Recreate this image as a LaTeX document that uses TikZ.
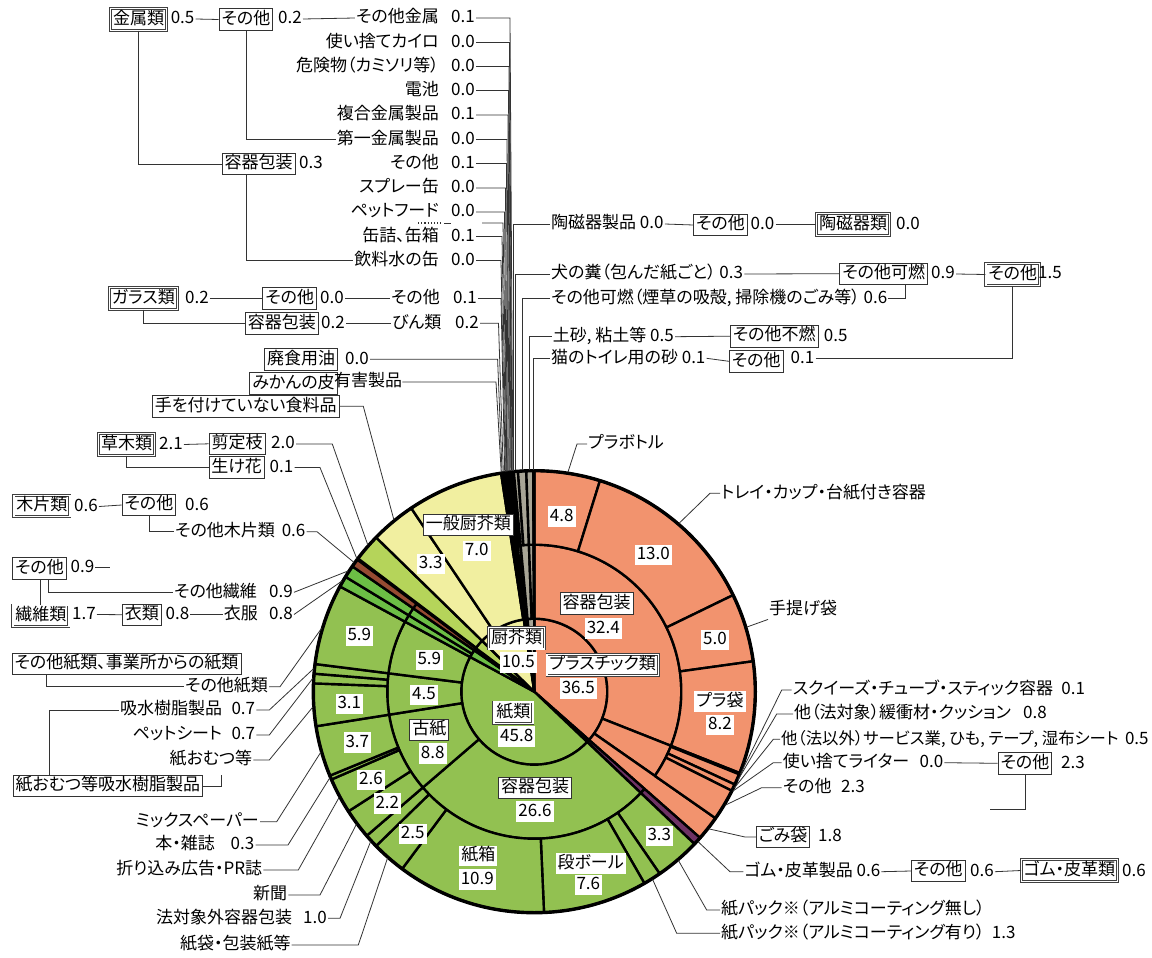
\documentclass[tikz,border=0pt]{standalone}
\usepackage{fontspec}
\setmainfont{Noto Sans CJK JP}[RawFeature=+palt]
\usetikzlibrary{calc}
\definecolor{plaS}{RGB}{242,147,110}
\definecolor{papG}{RGB}{146,193,81}
\definecolor{texG}{RGB}{108,190,69}
\definecolor{wodB}{RGB}{150,75,50}
\definecolor{grsG}{RGB}{181,212,90}
\definecolor{kitY}{RGB}{241,239,160}
\definecolor{rubP}{RGB}{110,50,100}
\definecolor{miscG}{RGB}{168,165,150}
\newcommand\lblfont{\fontsize{17}{19}\selectfont}
% annular sector: inner radius, outer radius, start %, end %, fill colour
\newcommand\wdg[5]{%
  \pgfmathsetmacro\wdgA{3.6*(#3)-90}%
  \pgfmathsetmacro\wdgB{3.6*(#4)-90}%
  \filldraw[wedge, fill=#5] (\wdgA:#1) arc[start angle=\wdgA, end angle=\wdgB, radius=#1]
    -- (\wdgB:#2) arc[start angle=\wdgB, end angle=\wdgA, radius=#2] -- cycle;}
% point on the rim at a given percentage
\newcommand\tgt[2]{\coordinate (#1) at ({3.6*(#2)-90}:222);}
\begin{document}
\begin{tikzpicture}[x=1pt,y=-1pt,
  every node/.style={font=\lblfont, inner sep=1pt, text height=13pt, text depth=3.5pt},
  wedge/.style={draw=black, line width=2.4pt, line join=round},
  lead/.style={draw=black!80, line width=0.8pt},
  tbox/.style={draw=black!80, line width=0.8pt, fill=white, inner sep=2.5pt},
  dbox/.style={draw=black!75, double=white, double distance=1.4pt, line width=0.7pt, fill=white, inner sep=2.5pt},
  num/.style={fill=white, inner sep=2pt},
  after/.style={anchor=west, xshift=#1}]

\fill[white] (0,0) rectangle (1152,958);
\path[use as bounding box] (0,0) rectangle (1152,958);

% ---------------- sunburst ----------------
\begin{scope}[shift={(534.3,691.7)}]
% level 1
\wdg{0.01}{73}{0}{36.5}{plaS}
\wdg{0.01}{73}{36.5}{37.1}{rubP}
\wdg{0.01}{73}{37.1}{82.9}{papG}
\wdg{0.01}{73}{82.9}{84.6}{texG}
\wdg{0.01}{73}{84.6}{85.2}{wodB}
\wdg{0.01}{73}{85.2}{87.3}{grsG}
\wdg{0.01}{73}{87.3}{97.7}{kitY}
\wdg{0.01}{73}{97.7}{97.9}{miscG}
\wdg{0.01}{73}{97.9}{98.5}{miscG}
\wdg{0.01}{73}{98.5}{98.52}{miscG}
\wdg{0.01}{73}{98.52}{100}{miscG}
% level 2
\wdg{73}{147}{0}{31.0}{plaS}
\wdg{73}{147}{31.0}{34.7}{plaS}
\wdg{73}{221}{34.7}{36.5}{plaS}
\wdg{73}{147}{36.5}{37.1}{rubP}
\wdg{73}{147}{37.1}{63.7}{papG}
\wdg{73}{147}{63.7}{72.5}{papG}
\wdg{73}{147}{72.5}{77.0}{papG}
\wdg{73}{147}{77.0}{82.9}{papG}
\wdg{73}{147}{82.9}{83.7}{texG}
\wdg{73}{147}{83.7}{84.6}{texG}
\wdg{73}{147}{84.6}{85.2}{wodB}
\wdg{73}{221}{85.2}{85.3}{grsG}
\wdg{73}{221}{85.3}{87.3}{grsG}
\wdg{73}{221}{87.3}{90.6}{kitY}
\wdg{73}{221}{90.6}{97.6}{kitY}
\wdg{73}{221}{97.6}{97.66}{kitY}
\wdg{73}{221}{97.66}{97.7}{kitY}
\wdg{73}{147}{97.7}{97.84}{miscG}
\wdg{73}{147}{97.84}{97.9}{miscG}
\wdg{73}{147}{97.9}{98.18}{miscG}
\wdg{73}{147}{98.18}{98.5}{miscG}
\wdg{73}{147}{98.5}{98.52}{miscG}
\wdg{73}{147}{98.52}{99.42}{miscG}
\wdg{73}{147}{99.42}{99.92}{miscG}
\wdg{73}{147}{99.92}{100}{miscG}
% level 3
\wdg{147}{221}{0}{4.8}{plaS}
\wdg{147}{221}{4.8}{17.8}{plaS}
\wdg{147}{221}{17.8}{22.8}{plaS}
\wdg{147}{221}{22.8}{31.0}{plaS}
\wdg{147}{221}{31.0}{31.1}{plaS}
\wdg{147}{221}{31.1}{31.9}{plaS}
\wdg{147}{221}{31.9}{32.4}{plaS}
\wdg{147}{221}{32.4}{34.7}{plaS}
\wdg{147}{221}{36.5}{37.1}{rubP}
\wdg{147}{221}{37.1}{40.4}{papG}
\wdg{147}{221}{40.4}{41.7}{papG}
\wdg{147}{221}{41.7}{49.3}{papG}
\wdg{147}{221}{49.3}{60.2}{papG}
\wdg{147}{221}{60.2}{62.7}{papG}
\wdg{147}{221}{62.7}{63.7}{papG}
\wdg{147}{221}{63.7}{65.9}{papG}
\wdg{147}{221}{65.9}{68.5}{papG}
\wdg{147}{221}{68.5}{68.8}{papG}
\wdg{147}{221}{68.8}{72.5}{papG}
\wdg{147}{221}{72.5}{75.6}{papG}
\wdg{147}{221}{75.6}{76.3}{papG}
\wdg{147}{221}{76.3}{77.0}{papG}
\wdg{147}{221}{77.0}{82.9}{papG}
\wdg{147}{221}{82.9}{83.7}{texG}
\wdg{147}{221}{83.7}{84.6}{texG}
\wdg{147}{221}{84.6}{85.2}{wodB}
\wdg{147}{221}{97.7}{97.84}{miscG}
\wdg{147}{221}{97.84}{97.9}{miscG}
\wdg{147}{221}{97.9}{97.94}{miscG}
\wdg{147}{221}{97.94}{98.0}{miscG}
\wdg{147}{221}{98.0}{98.04}{miscG}
\wdg{147}{221}{98.04}{98.08}{miscG}
\wdg{147}{221}{98.08}{98.18}{miscG}
\wdg{147}{221}{98.18}{98.22}{miscG}
\wdg{147}{221}{98.22}{98.3}{miscG}
\wdg{147}{221}{98.3}{98.34}{miscG}
\wdg{147}{221}{98.34}{98.38}{miscG}
\wdg{147}{221}{98.38}{98.42}{miscG}
\wdg{147}{221}{98.42}{98.5}{miscG}
\wdg{147}{221}{98.5}{98.52}{miscG}
\wdg{147}{221}{98.52}{98.82}{miscG}
\wdg{147}{221}{98.82}{99.42}{miscG}
\wdg{147}{221}{99.42}{99.92}{miscG}
\wdg{147}{221}{99.92}{100}{miscG}
\draw[line width=3.4pt] (0,0) circle[radius=221];
% rim points for the leader lines
\tgt{tm1}{98.46}\tgt{tm2}{98.40}\tgt{tm3}{98.36}\tgt{tm4}{98.32}\tgt{tm5}{98.26}
\tgt{tm6}{98.20}\tgt{tm7}{98.13}\tgt{tm8}{98.06}\tgt{tm9}{98.02}\tgt{tm9b}{98.04}
\tgt{tm10}{97.97}\tgt{tm11}{97.92}
\tgt{tg1}{97.87}\tgt{tg2}{97.77}\tgt{th}{97.68}\tgt{ty}{97.62}
\tgt{tc1}{98.51}\tgt{tk1}{98.67}\tgt{tk4}{99.12}\tgt{tf1}{99.67}\tgt{tn1}{99.96}
\tgt{tpb}{2.42}\tgt{ttr}{11.3}\tgt{ttb}{20.3}
\tgt{tq1}{31.05}\tgt{tq2}{31.5}\tgt{tq3}{32.15}\tgt{tq4}{32.4}\tgt{tq5}{33.55}
\tgt{tgb}{35.6}\tgt{tgr}{36.8}\tgt{tkp1}{38.75}\tgt{tkp2}{41.05}
\tgt{tte}{89.1}\tgt{tse}{86.5}\tgt{tik}{85.25}\tgt{tmt}{84.9}
\tgt{tst}{84.15}\tgt{tif}{83.3}
\tgt{tp1}{79.6}\tgt{tp2}{76.65}\tgt{tp3}{75.95}\tgt{tp4}{73.9}\tgt{tp5}{70.6}
\tgt{tp6}{68.65}\tgt{tp7}{67.1}\tgt{tp8}{64.8}\tgt{tp9}{63.2}\tgt{tp10}{61.5}
\end{scope}

% ---------------- labels inside the rings ----------------
\node[num] (i1) at (561.7,516.7) {4.8};
\node[num] (i2) at (653.3,555) {13.0};
\node[num] (i3) at (715,640) {5.0};
\node[num] (i4) at (720,701.7) {プラ袋};
\node[num] (i4v) at (720,725) {8.2};
\node[tbox] (i5) at (596.7,603.3) {容器包装};
\node[num] (i5v) at (603.3,628.3) {32.4};
\node[dbox] (i6) at (602.7,665) {プラスチック類};
\node[num] (i6v) at (578.3,688.3) {36.5};
\node[dbox] (i7) at (516.7,638.3) {厨芥類};
\node[num] (i7v) at (518.3,662.7) {10.5};
\node[tbox] (i8) at (468.3,525) {一般厨芥類};
\node[num] (i8v) at (476.7,551) {7.0};
\node[num] (i9) at (430.7,564) {3.3};
\node[num] (i10) at (359.3,636) {5.9};
\node[num] (i11) at (429.3,660) {5.9};
\node[num] (i12) at (424,695) {4.5};
\node[num] (i13) at (349.3,704) {3.1};
\node[tbox] (i14) at (429.3,730) {古紙};
\node[num] (i14v) at (432.7,753.3) {8.8};
\node[dbox] (i15) at (513.3,712.7) {紙類};
\node[num] (i15v) at (516.7,736.7) {45.8};
\node[num] (i16) at (357.3,742.7) {3.7};
\node[num] (i17) at (371,780) {2.6};
\node[num] (i18) at (387.3,803.3) {2.2};
\node[num] (i19) at (412.7,834) {2.5};
\node[tbox] (i20) at (535,787.7) {容器包装};
\node[num] (i20v) at (535,811.7) {26.6};
\node[num] (i21) at (478.3,856) {紙箱};
\node[num] (i21v) at (477.3,879.3) {10.9};
\node[num] (i22) at (590.7,863.3) {段ボール};
\node[num] (i22v) at (588.3,885) {7.6};
\node[num] (i23) at (659.3,836) {3.3};

% ---------------- metals ----------------
\node[dbox] (kin) at (138.6,19.5) {金属類};
\node (kinv) at (182.6,19) {0.5};
\node[tbox] (mo) at (246,19.5) {その他};
\node (mov) at (290,19) {0.2};
\node[tbox] (mk) at (258.5,164) {容器包装};
\node (mkv) at (311,164) {0.3};
\node[anchor=east] (m1) at (440,18) {その他金属};
\node (m1v) at (463,18) {0.1};
\node[anchor=east] (m2) at (440,42.5) {使い捨てカイロ};
\node (m2v) at (463,42.5) {0.0};
\node[anchor=east] (m3) at (440,66.5) {危険物（カミソリ等）};
\node (m3v) at (463,66.5) {0.0};
\node[anchor=east] (m4) at (440,90.5) {電池};
\node (m4v) at (463,90.5) {0.0};
\node[anchor=east] (m5) at (440,115) {複合金属製品};
\node (m5v) at (463,115) {0.1};
\node[anchor=east] (m6) at (440,139.5) {第一金属製品};
\node (m6v) at (463,139.5) {0.0};
\node[anchor=east] (m7) at (440,163.5) {その他};
\node (m7v) at (463,163.5) {0.1};
\node[anchor=east] (m8) at (440,188) {スプレー缶};
\node (m8v) at (463,188) {0.0};
\node[anchor=east] (m9) at (440,212) {ペットフード};
\node (m9v) at (463,212) {0.0};
\node[anchor=east] (m10) at (440,236.5) {缶詰、缶箱};
\node (m10v) at (463,236.5) {0.1};
\node[anchor=east] (m11) at (440,260.5) {飲料水の缶};
\node (m11v) at (463,260.5) {0.0};
\draw[lead] (kinv.east) -- (mo.west);
\draw[lead] (mov.east) -- (m1.west);
\draw[lead] (kin.south) |- (mk.west);
\draw[lead] (mo.south) |- (m6.west);
\draw[lead] (mo.south |- mk.south) |- (m11.west);
% each leader runs right to its own bend, then down to the rim
\foreach \r/\bx in {1/510,2/509.5,3/509,4/508.5,5/508,6/507,7/506.5,8/505.5,9/504.5,10/502,11/501}
  {\draw[lead] (m\r v.east) -- (\bx,0 |- m\r v.east) -- (tm\r);}
\coordinate (dt1) at (418,223);
\coordinate (dt2) at (441,223);
\coordinate (dt3) at (444,223);
\coordinate (dt4) at (451,223);
\coordinate (dt5) at (482,223);
\draw[black!80, dotted, line width=1.2pt] (dt1) -- (dt2);
\draw[lead] (dt3) -- (dt4);
\draw[lead] (dt5) -- (503,223) -- (tm9b);

% ---------------- glass ----------------
\node[dbox] (gl) at (143.4,298.5) {ガラス類};
\node (glv) at (197,298.5) {0.2};
\node[tbox] (go) at (289.7,298.5) {その他};
\node (gov) at (332,298.5) {0.0};
\node[anchor=east] (g1) at (441,298.5) {その他};
\node (g1v) at (465,298.5) {0.1};
\node[tbox] (gk) at (281.8,323.3) {容器包装};
\node (gkv) at (333,323.3) {0.2};
\node[anchor=east] (g2) at (442.5,323.3) {びん類};
\node (g2v) at (467,323.3) {0.2};
\draw[lead] (glv.east) -- (go.west);
\draw[lead] (gov.east) -- (g1.west);
\draw[lead] (g1v.east) -- (501,298.5) -- (tg1);
\draw[lead] (gl.south) |- (gk.west);
\draw[lead] (gkv.east) -- (g2.west);
\draw[lead] (g2v.east) -- (498.5,323.3) -- (tg2);

% ---------------- kitchen waste and others on the left ----------------
\node[tbox] (hs) at (301,359.3) {廃食用油};
\node (hsv) at (357,359.3) {0.0};
\draw[lead] (hsv.east) -- (497.6,359.3) -- (th);
\node[tbox] (mi) at (293.5,383.3) {みかんの皮};
\node[anchor=west, inner sep=0pt] (yu) at (334,382) {有害製品};
\draw[lead] (yu.east) -- (496,382) -- (ty);
\node[tbox] (te) at (245.7,406.3) {手を付けていない食料品};
\draw[lead] (te.east) -- (363.3,406.3) -- (tte);

\node[dbox] (so) at (126.7,444.5) {草木類};
\node (sov) at (171,444.5) {2.1};
\node[tbox] (se) at (237,443.8) {剪定枝};
\node (sev) at (283,444) {2.0};
\node[tbox] (ik) at (236.7,467.5) {生け花};
\node (ikv) at (281.5,467.5) {0.1};
\draw[lead] (sov.east) -- (se.west);
\draw[lead] (so.south) |- (ik.west);
\draw[lead] (sev.east) -- (332.3,444) -- (tse);
\draw[lead] (ikv.east) -- (320,467.5) -- (tik);

\node[dbox] (mku) at (41.8,506) {木片類};
\node (mkuv) at (86,506.5) {0.6};
\node[tbox] (mko) at (149,505) {その他};
\node (mkov) at (197,506) {0.6};
\node[anchor=west] (mt) at (174,531.7) {その他木片類};
\node (mtv) at (293.6,531.7) {0.6};
\draw[lead] (mkuv.east) -- (mko.west);
\draw[lead] (mko.south) |- (mt.west);
\draw[lead] (mtv.east) -- (317,531.7) -- (tmt);

% ---------------- textiles ----------------
\node[tbox] (so3) at (39.5,568.5) {その他};
\node (so3v) at (82.5,567.5) {0.9};
\coordinate (so3e) at (110,567.5);
\draw[lead] (so3v.east) -- (so3e);
\node[anchor=west] (st) at (173,592.3) {その他繊維};
\node (stv) at (281,592.3) {0.9};
\node[dbox] (sen) at (40.8,615.8) {繊維類};
\node (senv) at (84,614.5) {1.7};
\node[tbox] (ir) at (141.8,614.7) {衣類};
\node (irv) at (177.5,614.5) {0.8};
\node[anchor=west] (ifu) at (222.7,614.5) {衣服};
\node (ifuv) at (281,614.5) {0.8};
\draw[lead] (sen.north) -- (sen.north |- so3.south);
\draw[lead] ([xshift=9pt]so3.south) |- (st.west);
\draw[lead] (stv.east) -- (tst);
\draw[lead] (senv.east) -- (ir.west);
\draw[lead] (irv.east) -- (ifu.west);
\draw[lead] (ifuv.east) -- (tif);

% ---------------- paper ----------------
\node[tbox] (ps) at (126.5,663.8) {その他紙類、事業所からの紙類};
\node[anchor=west] (p1) at (184,686.7) {その他紙類};
\draw[lead] ($(ps.south west)+(34.3,0)$) |- (p1.west);
\draw[lead] (p1.east) -- (280,686.7) -- (tp1);
\node[anchor=east] (p2) at (223.3,710) {吸水樹脂製品};
\node (p2v) at (243.3,710) {0.7};
\draw[lead] (p2v.east) -- (269.3,710) -- (tp2);
\node[anchor=east] (p3) at (223.3,735) {ペットシート};
\node (p3v) at (243.3,735) {0.7};
\draw[lead] (p3v.east) -- (269.3,735) -- (tp3);
\node[anchor=east] (p4) at (253.3,760) {紙おむつ等};
\draw[lead] (p4.east) -- (269.3,760) -- (tp4);
\node[tbox] (po) at (107.8,786) {紙おむつ等吸水樹脂製品};
\draw[lead] ($(po.north west)+(37,0)$) |- (p2.west);
\coordinate (poe) at (221.7,775);
\draw[lead] (po.east) -| (poe);
\node[anchor=east] (p5) at (260,821.7) {ミックスペーパー};
\draw[lead] (p5.east) -- (276.7,821.7) -- (tp5);
\node[anchor=east] (p6) at (216,845) {本・雑誌};
\node (p6v) at (242.5,845) {0.3};
\draw[lead] (p6v.east) -- (288,845) -- (tp6);
\node[anchor=east] (p7) at (263.3,870) {折り込み広告・PR誌};
\draw[lead] (p7.east) -- (298.3,870) -- (tp7);
\node[anchor=east] (p8) at (288.3,895) {新聞};
\draw[lead] (p8.east) -- (320,895) -- (tp8);
\node[anchor=east] (p9) at (293.3,918.3) {法対象外容器包装};
\node (p9v) at (315,918.3) {1.0};
\draw[lead] (p9v.east) -- (340,918.3) -- (tp9);
\node[anchor=east] (p10) at (291.7,945) {紙袋・包装紙等};
\draw[lead] (p10.east) -- (358.3,945) -- (tp10);

% ---------------- right, upper part ----------------
\node[anchor=west] (c1) at (550,224) {陶磁器製品 0.0};
\node[tbox] (c2) at (720.4,225) {その他};
\node (c2v) at (762.5,224.5) {0.0};
\node[dbox] (c3) at (853,224.5) {陶磁器類};
\node (c3v) at (908,224.5) {0.0};
\draw[lead] (c1.west) -| (tc1);
\draw[lead] (c1.east) -- (c2.west);
\draw[lead] (c2v.east) -- (c3.west);

\node[anchor=west] (k1) at (550,274) {犬の糞（包んだ紙ごと） 0.3};
\node[tbox] (k2) at (883.7,273.7) {その他可燃};
\node (k2v) at (943,274) {0.9};
\node[dbox] (k3) at (1012.7,274.5) {その他};
\node (k3v) at (1050,274) {1.5};
\node[anchor=west] (k4) at (550,298.3) {その他可燃（煙草の吸殻, 掃除機のごみ等） 0.6};
\draw[lead] (k1.west) -| (tk1);
\draw[lead] (k1.east) -- (k2.west);
\draw[lead] (k2v.east) -- (k3.west);
\draw[lead] (k4.west) -| (tk4);
\draw[lead] (k4.east) -| ($(k2.south west)!0.75!(k2.south east)$);

\node[anchor=west] (f1) at (551.7,336.7) {土砂, 粘土等 0.5};
\node[tbox] (f2) at (774.2,336.2) {その他不燃};
\node (f2v) at (835.7,336.5) {0.5};
\draw[lead] (f1.west) -| (tf1);
\draw[lead] (f1.east) -- (f2.west);
\node[anchor=west] (n1) at (550,358.3) {猫のトイレ用の砂 0.1};
\node[tbox] (n2) at (756.2,361.3) {その他};
\node (n2v) at (802.5,358.3) {0.1};
\draw[lead] (n1.west) -| (tn1);
\draw[lead] (n1.east) -- (n2.west);
\draw[lead] (n2v.east) -| (k3.south);

% ---------------- right, plastics ----------------
\node[anchor=west] (pb) at (587,444) {プラボトル};
\draw[lead] (pb.west) -- (577,444) -- (tpb);
\node[anchor=west] (tr) at (720,493.3) {トレイ・カップ・台紙付き容器};
\draw[lead] (tr.west) -- (710,493.3) -- (ttr);
\node[anchor=west] (tb) at (768,610) {手提げ袋};
\draw[lead] (tb.south west) -- (ttb);

\node[anchor=west] (q1) at (791.7,690) {スクイーズ・チューブ・スティック容器};
\node[after=6pt] (q1v) at (q1.east) {0.1};
\draw[lead] (q1.west) -- (781.7,690) -- (tq1);
\node[anchor=west] (q2) at (793,714) {他（法対象）緩衝材・クッション};
\node[after=10pt] (q2v) at (q2.east) {0.8};
\draw[lead] (q2.west) -- (776.7,714) -- (tq2);
\node[anchor=west, font=\fontsize{16.4}{18}\selectfont] (q3) at (780,739.3) {他（法以外）サービス業, ひも, テープ, 湿布シート};
\node[after=4pt] (q3v) at (q3.east) {0.5};
\draw[lead] (q3.west) -- (773.3,739.3) -- (tq3);
\node[anchor=west] (q4) at (781.7,762.7) {使い捨てライター};
\node[after=8pt] (q4v) at (q4.east) {0.0};
\draw[lead] (q4.west) -- (773.3,762.7) -- (tq4);
\node[tbox] (q4b) at (1025,763.3) {その他};
\node (q4bv) at (1073,763.3) {2.3};
\draw[lead] (q4v.east) -- (q4b.west);
\coordinate (q4e) at (990,809);
\draw[lead] (q4b.south) |- (q4e);
\node[anchor=west] (q5) at (781.7,787.7) {その他};
\node (q5v) at (853,787.7) {2.3};
\draw[lead] (q5.west) -- (761.7,787.7) -- (tq5);

\node[tbox] (gb) at (783,837) {ごみ袋};
\node (gbv) at (830,836.5) {1.8};
\draw[lead] (gb.west) -- (745,837) -- (tgb);

\node[anchor=west] (gr1) at (743.3,871.7) {ゴム・皮革製品 0.6};
\node[tbox] (gr2) at (938.3,871) {その他};
\node (gr2v) at (982,871.7) {0.6};
\node[dbox] (gr3) at (1069.5,870.5) {ゴム・皮革類};
\node (gr3v) at (1134,871.7) {0.6};
\draw[lead] (gr1.west) -- (730,871.7) -- (tgr);
\draw[lead] (gr1.east) -- (gr2.west);
\draw[lead] (gr2v.east) -- (gr3.west);

\node[anchor=west] (kp1) at (720,910) {紙パック※（アルミコーティング無し）};
\draw[lead] (kp1.west) -- (706.7,910) -- (tkp1);
\node[anchor=west] (kp2) at (720,933.3) {紙パック※（アルミコーティング有り）};
\node[after=5pt] (kp2v) at (kp2.east) {1.3};
\draw[lead] (kp2.west) -- (676.7,933.3) -- (tkp2);
\end{tikzpicture}
\end{document}
